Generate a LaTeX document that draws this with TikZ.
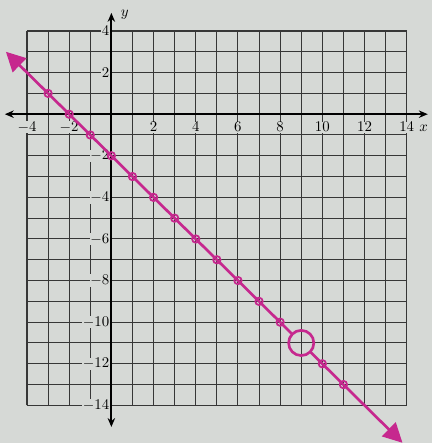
\documentclass[tikz,border=0pt]{standalone}
\usepackage{tikz}
\usetikzlibrary{arrows.meta,positioning}
\definecolor{paper}{RGB}{214,217,214}
\definecolor{marker}{RGB}{198,40,142}
\definecolor{gridgray}{RGB}{55,55,55}

\begin{document}
\begin{tikzpicture}[x=0.5cm,y=0.493cm,
  tick/.style={font=\normalsize,fill=paper,inner sep=0.5pt},
  dot/.style={circle,draw=marker,line width=1.2pt,minimum size=5pt,inner sep=0pt},
  graph/.style={draw=marker,line width=1.8pt,line cap=round},
  ax/.style={line width=1.2pt,{Stealth[length=6pt,width=5pt]}-{Stealth[length=6pt,width=5pt]}}]
  \fill[paper] (-5.28,-15.81) rectangle (15.19,5.49);
  \useasboundingbox (-5.28,-15.81) rectangle (15.19,5.49);
  \draw[gridgray,line width=0.7pt,xstep=0.5cm,ystep=0.493cm] (-4,-14) grid (14,4);
  \coordinate (xl) at (-5.05,0);
  \coordinate (xr) at (15.0,0);
  \coordinate (yt) at (0,4.87);
  \coordinate (yb) at (0,-15.04);
  \draw[ax] (xl) -- (xr);
  \draw[ax] (yt) -- (yb);
  \node (ylab) at (0.64,4.77) {$y$};
  \node (xlab) at (14.8,-0.66) {$x$};
  \foreach \x in {-4,-2,2,4,...,14}
    \node[tick] (tx\x) at (\x,-0.62) {$\x$};
  \foreach \y in {4,2,-2,-4,...,-14}
    \node[tick,anchor=east] (ty\y) at (-0.05,\y) {$\y$};
  \foreach \x in {-3,-2,...,8,10,11}
    \node[dot] (p\x) at (\x,{-(\x)-2}) {};
  \node[circle,draw=marker,line width=1.8pt,minimum size=17pt,inner sep=0pt] (hole) at (9,-11) {};
  \coordinate (lstart) at (-5.0,3.0);
  \coordinate (lend) at (13.8,-15.8);
  \draw[graph,-{Triangle[length=13pt,width=13pt]}] (hole) -- (lstart);
  \draw[graph,-{Triangle[length=13pt,width=13pt]}] (hole) -- (lend);
\end{tikzpicture}
\end{document}
